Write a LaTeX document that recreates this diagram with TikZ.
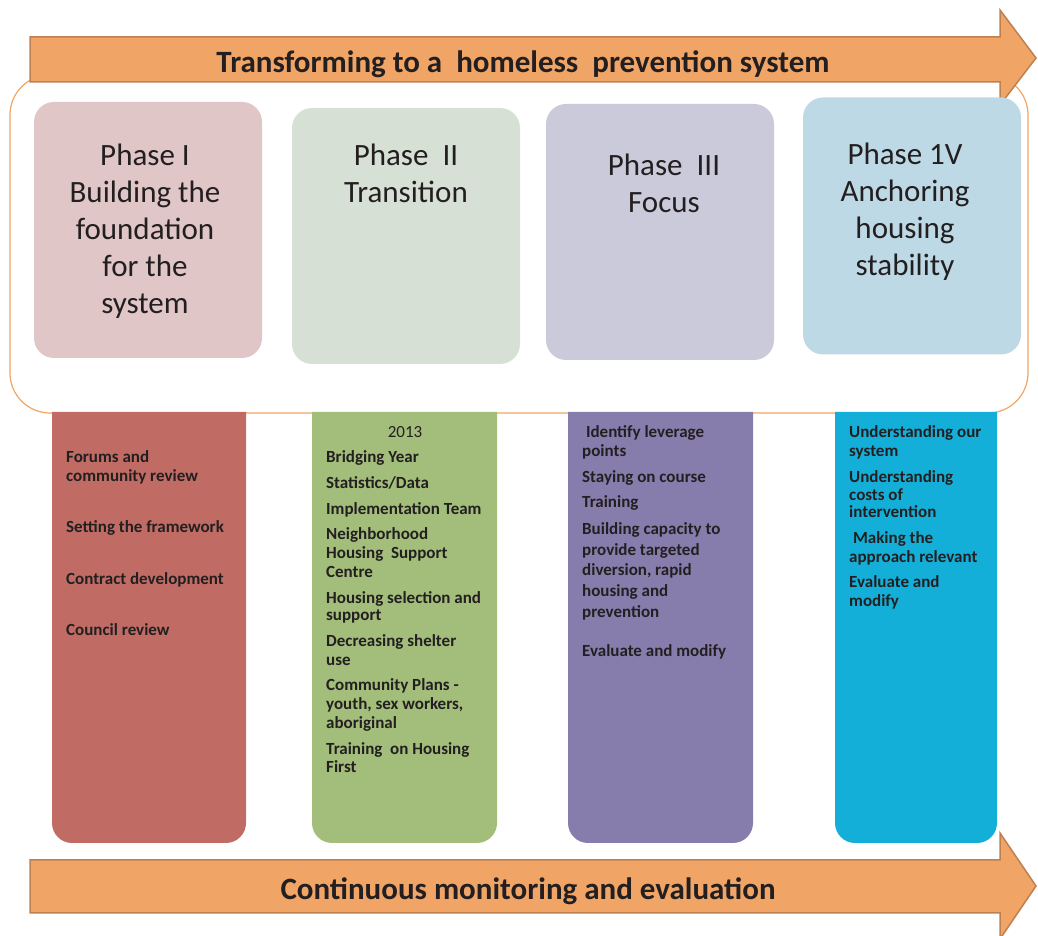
\documentclass[tikz,border=0pt]{standalone}
\usepackage{fontspec}
\setmainfont{Carlito}
\usetikzlibrary{positioning}

\definecolor{ink}{RGB}{35,31,32}
\definecolor{arrowfill}{RGB}{240,165,102}
\definecolor{arrowline}{RGB}{190,128,80}
\definecolor{framecol}{RGB}{240,165,100}
\definecolor{phaseA}{RGB}{224,198,199}
\definecolor{phaseB}{RGB}{214,224,212}
\definecolor{phaseC}{RGB}{203,202,218}
\definecolor{phaseD}{RGB}{189,217,230}
\definecolor{colA}{RGB}{192,108,101}
\definecolor{colB}{RGB}{163,189,123}
\definecolor{colC}{RGB}{135,125,173}
\definecolor{colD}{RGB}{20,175,216}

\begin{document}
\begin{tikzpicture}[x=1pt,y=1pt]
  \useasboundingbox (0,0) rectangle (1038,936);
  \tikzstyle{phasebox}=[rounded corners=20pt, minimum width=228pt, minimum height=256pt, inner sep=0pt]
  \tikzstyle{phasetext}=[align=center, text=ink, font=\fontsize{31}{37}\selectfont]
  \tikzstyle{listtext}=[align=left, anchor=base west, inner sep=0pt, text=ink, font=\bfseries\fontsize{17}{19}\selectfont]
  \tikzstyle{arrowtext}=[text=ink, font=\bfseries\fontsize{31}{34}\selectfont]
  \tikzstyle{bigarrow}=[draw=arrowline, fill=arrowfill, line width=1.5pt]

  % frame round the phases
  \draw[framecol, line width=1.2pt, rounded corners=40pt] (10,523) rectangle (1028,861);

  \draw[bigarrow] (30,854) -- (30,899) -- (1000,899) -- (1000,926) -- (1036,878) -- (1000,831) -- (1000,854) -- cycle;
  \node[arrowtext] (toptitle) at (523,872) {Transforming to a \ homeless \ prevention system};

  \node[phasebox, fill=phaseA] (phaseI) at (148,706) {};
  \node[phasetext] (phaseItext) at (145,705) {Phase I\\Building the\\foundation\\for the\\system};
  \node[phasebox, fill=phaseB] (phaseII) at (406,700) {};
  \node[phasetext] (phaseIItext) at (406,763) {Phase \ II\\Transition};
  \node[phasebox, fill=phaseC] (phaseIII) at (660,704) {};
  \node[phasetext] (phaseIIItext) at (664,753) {Phase \ III\\Focus};
  \node[phasebox, fill=phaseD, minimum width=218pt, minimum height=257pt] (phaseIV) at (912,710) {};
  \node[phasetext] (phaseIVtext) at (905,724) {Phase 1V\\Anchoring\\housing\\stability};

  % columns, square on top and round below
  \foreach \xa/\xb/\col in {52/246/colA, 312/497/colB, 568/753/colC, 835/997/colD}
    \fill[\col] (\xa,524) -- (\xa,113) arc[start angle=180, end angle=270, radius=20]
      -- (\xb-20,93) arc[start angle=270, end angle=360, radius=20] -- (\xb,524) -- cycle;

  % lists sit on the baseline of their last line
  \node[listtext] (redlist) at (66,300) {Forums and\\community review\\[32pt]Setting the framework\\[33pt]Contract development\\[32pt]Council review};

  \node[text=ink, anchor=base, inner sep=0pt, font=\fontsize{17}{19}\selectfont] (greenyear) at (405,498) {2013};
  \node[listtext] (greenlist) at (326,163) {Bridging Year\\[7pt]Statistics/Data\\[7pt]Implementation Team\\[6pt]Neighborhood\\Housing \ Support\\Centre\\[7pt]Housing selection and\\[-2pt]support\\[7pt]Decreasing shelter\\use\\[6pt]Community Plans -\\youth, sex workers,\\aboriginal\\[7pt]Training \ on Housing\\[-1pt]First};

  \node[listtext] (purplelist) at (582,279) {\ Identify leverage\\points\\[7pt]Staying on course\\[6pt]Training\\[8pt]Building capacity to\\[2pt]provide targeted\\[1pt]diversion, rapid\\[2pt]housing and\\[2pt]prevention\\[20pt]Evaluate and modify};

  \node[listtext] (bluelist) at (849,329) {Understanding our\\system\\[7pt]Understanding\\[-1pt]costs of\\[-2pt]intervention\\[7pt]\ Making the\\approach relevant\\[6pt]Evaluate and\\modify};

  \draw[bigarrow] (30,23) -- (30,76) -- (1000,76) -- (1000,103) -- (1036,50) -- (1000,-3) -- (1000,23) -- cycle;
  \node[arrowtext] (bottomtitle) at (528,45) {Continuous monitoring and evaluation};
\end{tikzpicture}
\end{document}
